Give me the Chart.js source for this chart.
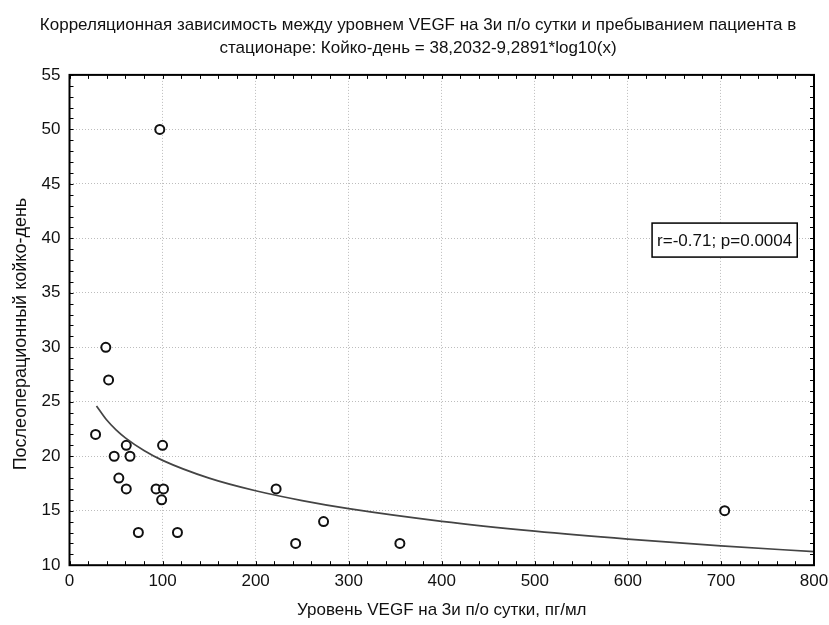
<!DOCTYPE html>
<html>
<head>
<meta charset="utf-8">
<script src="https://cdn.jsdelivr.net/npm/chart.js@4.4.0/dist/chart.umd.min.js"></script>
<style>
  html, body { margin: 0; padding: 0; background: #fff; }
  #wrap { width: 829px; height: 625px; }
</style>
</head>
<body>
<div id="wrap"><canvas id="grafico" width="829" height="625"></canvas></div>
<script>
// точки: уровень VEGF и койко-день
const vegf = [97, 39, 42, 28, 61, 100, 48, 65, 53, 61, 93, 101, 99, 74, 116, 222, 273, 243, 355, 704];
const koikoDen = [50, 30, 27, 22, 21, 21, 20, 20, 18, 17, 17, 17, 16, 13, 13, 17, 14, 12, 12, 15];

// кривая регрессии
const curvaX = [29, 40, 50, 60, 80, 100, 150, 200, 250, 300, 400, 500, 600, 700, 800];
const curvaY = [24.62, 23.32, 22.42, 21.69, 20.53, 19.62, 17.99, 16.83, 15.93, 15.19, 14.03, 13.13, 12.40, 11.78, 11.24];

const tituloLineas = [
    'Корреляционная зависимость между уровнем VEGF на 3и п/о сутки и пребыванием пациента в',
    'стационаре: Койко-день = 38,2032-9,2891*log10(x)'
];
const tituloX = 'Уровень VEGF на 3и п/о сутки, пг/мл';
const tituloY = 'Послеоперационный койко-день';
const textoR = 'r=-0.71; p=0.0004';

const fuente = "'Liberation Sans', Arial, sans-serif";

// marco, marcas menores, titulo Y y recuadro con r
const marcoPlugin = {
    id: 'marco',
    afterDatasetsDraw(chart) {
        const ctx = chart.ctx;
        const a = chart.chartArea;
        const sx = chart.scales.x, sy = chart.scales.y;
        ctx.save();
        ctx.strokeStyle = '#000';
        ctx.lineWidth = 1;
        ctx.beginPath();
        for (let v = 0; v <= 800; v += 20) {
            const px = Math.round(sx.getPixelForValue(v)) + 0.5;
            ctx.moveTo(px, a.bottom); ctx.lineTo(px, a.bottom - 4);
            ctx.moveTo(px, a.top); ctx.lineTo(px, a.top + 4);
        }
        for (let v = 10; v <= 55; v += 1) {
            const py = Math.round(sy.getPixelForValue(v)) + 0.5;
            ctx.moveTo(a.left, py); ctx.lineTo(a.left + 4, py);
            ctx.moveTo(a.right, py); ctx.lineTo(a.right - 4, py);
        }
        ctx.stroke();
        ctx.lineWidth = 2;
        ctx.strokeRect(a.left, a.top, a.right - a.left, a.bottom - a.top);

        // titulo del eje Y, algo por debajo del centro como en el original
        ctx.save();
        ctx.translate(21, (a.top + a.bottom) / 2 + 14);
        ctx.rotate(-Math.PI / 2);
        ctx.font = '18px ' + fuente;
        ctx.fillStyle = '#111';
        ctx.textAlign = 'center';
        ctx.textBaseline = 'middle';
        ctx.fillText(tituloY, 0, 0);
        ctx.restore();

        // recuadro r / p
        ctx.font = '17px ' + fuente;
        const w = ctx.measureText(textoR).width + 10;
        const bx = sx.getPixelForValue(626);
        const by = sy.getPixelForValue(41.4);
        ctx.fillStyle = '#fff';
        ctx.fillRect(bx, by, w, 34);
        ctx.lineWidth = 1.5;
        ctx.strokeRect(bx, by, w, 34);
        ctx.fillStyle = '#111';
        ctx.textBaseline = 'middle';
        ctx.fillText(textoR, bx + 5, by + 18);
        ctx.restore();
    }
};

const fondoPlugin = {
    id: 'fondo',
    beforeDraw(chart) {
        const ctx = chart.ctx;
        ctx.save();
        ctx.fillStyle = '#fff';
        ctx.fillRect(0, 0, chart.width, chart.height);
        ctx.restore();
    }
};

new Chart(document.getElementById('grafico').getContext('2d'), {
    type: 'scatter',
    data: {
        datasets: [
            {
                label: 'curva',
                type: 'line',
                data: curvaX.map((x, i) => ({ x: x, y: curvaY[i] })),
                borderColor: '#444',
                borderWidth: 1.7,
                pointRadius: 0,
                cubicInterpolationMode: 'monotone',
                fill: false
            },
            {
                label: 'pacientes',
                data: vegf.map((x, i) => ({ x: x, y: koikoDen[i] })),
                pointStyle: 'circle',
                pointRadius: 4.5,
                pointBorderWidth: 2,
                pointBorderColor: '#111',
                pointBackgroundColor: '#fff'
            }
        ]
    },
    options: {
        responsive: false,
        animation: false,
        layout: { padding: { left: 7, right: 0, top: 8, bottom: 4 } },
        scales: {
            x: {
                type: 'linear',
                min: 0, max: 800,
                afterFit(scale) { scale.paddingRight = 15; },
                ticks: { stepSize: 100, color: '#111', font: { family: fuente, size: 17 }, padding: 6 },
                grid: { color: '#bdbdbd', drawTicks: false },
                border: { display: false, dash: [1, 2] },
                title: { display: true, text: tituloX, color: '#111', font: { family: fuente, size: 17 }, padding: { top: 3, bottom: 0 } }
            },
            y: {
                type: 'linear',
                min: 10, max: 55,
                ticks: { stepSize: 5, color: '#111', font: { family: fuente, size: 17 }, padding: 9 },
                grid: { color: '#bdbdbd', drawTicks: false },
                border: { display: false, dash: [1, 2] },
                title: { display: true, text: tituloY, color: 'rgba(0,0,0,0)', font: { family: fuente, size: 18 }, padding: { top: 0, bottom: 4 } }
            }
        },
        plugins: {
            legend: { display: false },
            tooltip: { enabled: false },
            title: {
                display: true,
                text: tituloLineas,
                color: '#111',
                font: { family: fuente, size: 17, weight: 'normal', lineHeight: 1.35 },
                padding: { top: 6, bottom: 15 }
            }
        }
    },
    plugins: [fondoPlugin, marcoPlugin]
});
</script>
</body>
</html>
